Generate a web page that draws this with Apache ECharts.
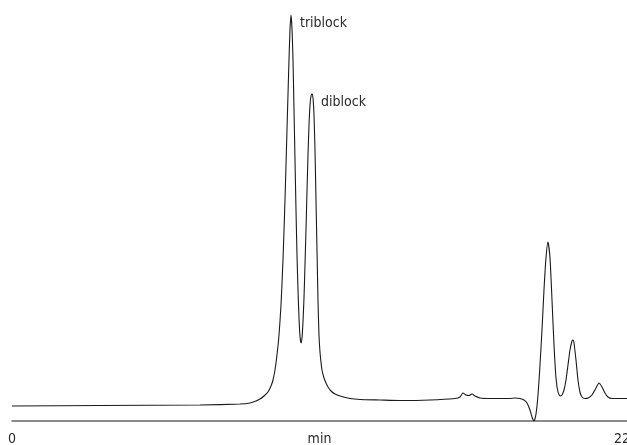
<!DOCTYPE html>
<html><head><meta charset="utf-8">
<script src="https://cdn.jsdelivr.net/npm/echarts@6/dist/echarts.min.js"></script>
<style>html,body{margin:0;padding:0;background:#fff}#c{width:627px;height:445px}</style>
</head><body><div id="c"></div>
<script>
// retention time (min)
const times = [0,3.174,6.780,8.223,8.584,8.800,8.944,9.089,9.233,9.341,9.413,9.485,9.557,9.630,9.702,9.774,9.846,9.918,9.990,10.026,10.062,10.098,10.135,10.171,10.207,10.243,10.279,10.315,10.351,10.387,10.423,10.459,10.495,10.531,10.567,10.603,10.639,10.676,10.712,10.748,10.784,10.820,10.856,10.892,10.928,10.964,11.000,11.036,11.072,11.108,11.144,11.180,11.253,11.325,11.397,11.505,11.649,11.830,12.190,12.551,13.272,13.994,15.076,15.977,16.158,16.266,16.374,16.482,16.590,16.699,16.879,17.240,17.600,17.961,18.141,18.322,18.466,18.574,18.682,18.754,18.826,18.899,18.971,19.043,19.115,19.187,19.259,19.331,19.404,19.476,19.548,19.620,19.692,19.764,19.836,19.908,19.981,20.053,20.125,20.197,20.233,20.269,20.341,20.413,20.485,20.558,20.666,20.774,20.918,21.062,21.171,21.279,21.387,21.495,21.640,21.928,22.181];
// detector signal (arbitrary units)
const signal = [15,15.5,16,17,18,20,22,25,29,35,41,51,66,86,116,161,221,291,361,391,406,393,361,311,261,211,166,131,103,85,78,83,99,123,156,191,229,266,296,316,325,327,323,306,271,221,171,121,86,69,59,51,43,38,34,30,27,25,22.5,21.5,21,20.5,21,22.5,24,28,26,25.5,27,25,23,22.5,22.5,22.5,23,22.5,21,18,11,4,0,7,26,56,91,131,163,179,163,121,76,43,29,25,26,31,41,56,71,80,81,78,61,41,29,24,22.5,23,26,33,38,34,28,24,22.5,22.5,22.5];
const xTickLabels = [0, 22];
const peakNames = ['triblock', 'diblock'];
const peakTimes = [10.062, 10.820];
const peakHeights = [406, 327];

const font = '"Liberation Sans Narrow","DejaVu Sans Condensed","Roboto Condensed",sans-serif';
const txt = '#2a2a2a';
const chart = echarts.init(document.getElementById('c'), null, {renderer:'canvas'});
chart.setOption({
  animation:false,
  grid:{left:12,right:0,top:11,bottom:24,containLabel:false,outerBoundsMode:'none'},
  xAxis:{type:'value',min:0,max:22.181,interval:22,
    name:'min',nameLocation:'middle',nameGap:11,nameMoveOverlap:false,
    nameTextStyle:{color:txt,fontFamily:font,fontSize:14,verticalAlign:'top'},
    axisLine:{lineStyle:{color:'#666',width:1.5}},
    axisTick:{show:false},splitLine:{show:false},
    axisLabel:{margin:11,color:txt,fontFamily:font,fontSize:14,
      formatter:v=>xTickLabels.includes(v)?String(v):''}},
  yAxis:{type:'value',min:0,max:410,show:false},
  series:[{type:'line',showSymbol:false,smooth:0.2,
    lineStyle:{color:'#1a1a1a',width:1.1},
    data:times.map((t,i)=>[t,signal[i]]),
    markPoint:{symbol:'circle',symbolSize:0,
      label:{show:true,position:[9,8],align:'left',verticalAlign:'middle',color:txt,fontFamily:font,fontSize:14,formatter:p=>p.name},
      data:peakNames.map((n,i)=>({name:n,coord:[peakTimes[i],peakHeights[i]]}))}
  }]
});
</script></body></html>
